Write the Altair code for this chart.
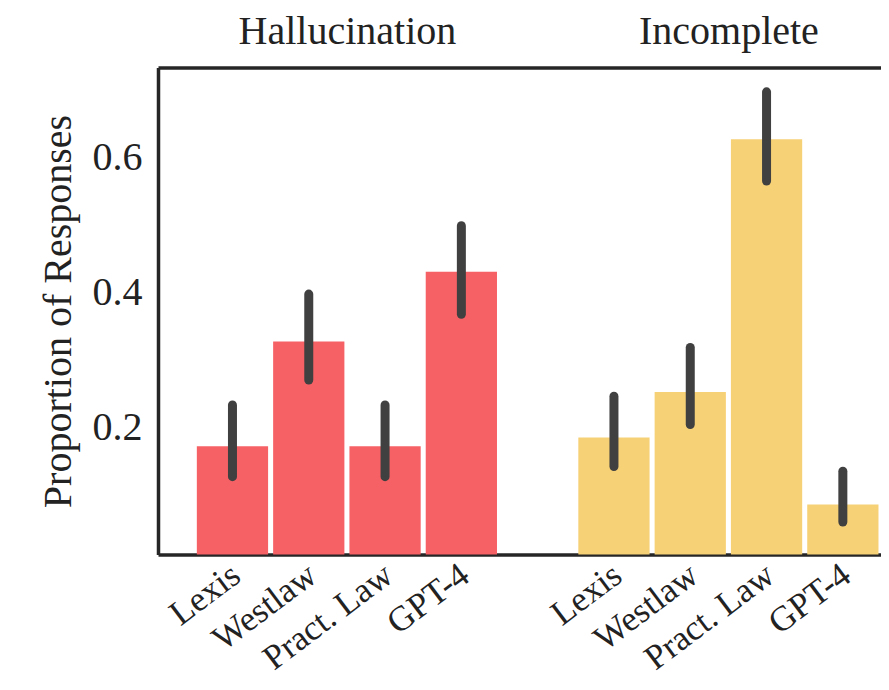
import altair as alt
import pandas as pd

models = ["Lexis", "Westlaw", "Pract. Law", "GPT-4"]
groups = ["Hallucination", "Incomplete"]
hall = [0.173, 0.328, 0.173, 0.431]
hall_lo = [0.128, 0.271, 0.128, 0.368]
hall_hi = [0.234, 0.398, 0.234, 0.499]
inc = [0.186, 0.253, 0.627, 0.087]
inc_lo = [0.143, 0.205, 0.565, 0.061]
inc_hi = [0.247, 0.319, 0.697, 0.136]
yticks = [0.2, 0.4, 0.6]

rows = []
for gi, (g, vals, los, his) in enumerate([(groups[0], hall, hall_lo, hall_hi),
                                           (groups[1], inc, inc_lo, inc_hi)]):
    for mi, m in enumerate(models):
        rows.append(dict(group=g, model=m, pos=gi * 5 + mi,
                         value=vals[mi], lo=los[mi], hi=his[mi]))
df = pd.DataFrame(rows)

label_list = models + [""] + models
label_expr = "[" + ",".join("'%s'" % s for s in label_list) + "][datum.value]"
positions = [0, 1, 2, 3, 5, 6, 7, 8]

FRAME = "#262626"
TEXT = "#222222"
xscale = alt.Scale(domain=[-0.976, 8.50], nice=False, zero=False)
yscale = alt.Scale(domain=[0.0129, 0.733], nice=False, zero=False)

base = alt.Chart(df)

bars = base.transform_calculate(
    x0="datum.pos - 0.467", x1="datum.pos + 0.467"
).mark_bar(clip=True).encode(
    x=alt.X("x0:Q", scale=xscale,
            axis=alt.Axis(orient="bottom", values=positions, labelExpr=label_expr,
                          labelAngle=-37, labelAlign="right", labelBaseline="middle",
                          labelPadding=16, labelOffset=3, labelFontSize=35,
                          labelColor=TEXT, labelOverlap=False, labelLimit=0,
                          labelBound=False, labelFlush=False,
                          ticks=False, grid=False, domainColor=FRAME, domainWidth=3.5,
                          title=None)),
    x2="x1:Q",
    y=alt.Y("value:Q", scale=yscale,
            axis=alt.Axis(values=yticks, format=".1f", ticks=False, grid=False,
                          labelFontSize=40, labelPadding=16, labelColor=TEXT,
                          labelOverlap=False,
                          domainColor=FRAME, domainWidth=3.5,
                          title="Proportion of Responses", titleFontSize=40,
                          titleFontWeight="normal", titleColor=TEXT,
                          titlePadding=14)),
    y2=alt.datum(0),
    color=alt.Color("group:N", scale=alt.Scale(domain=groups, range=["#f66166", "#f7d176"]),
                    legend=None),
)

errs = base.mark_rule(strokeWidth=9, strokeCap="round", color="#404040").encode(
    x=alt.X("pos:Q", scale=xscale,
            axis=alt.Axis(orient="top", values=[1.5, 6.5],
                          labelExpr="datum.value < 4 ? '%s' : '%s'" % (groups[0], groups[1]),
                          labelAngle=0, labelFontSize=40, labelPadding=16,
                          labelColor=TEXT, labelOverlap=False, labelLimit=0,
                          labelBound=False, labelFlush=False,
                          ticks=False, grid=False, domainColor=FRAME, domainWidth=3.5,
                          title=None)),
    y=alt.Y("lo:Q", scale=yscale),
    y2="hi:Q",
)

chart = alt.layer(bars, errs).resolve_axis(x="independent").properties(
    width=723, height=487, autosize="none",
    padding={"left": 150, "top": 59.5, "right": 0, "bottom": 123.5},
).configure(font="Liberation Serif").configure_view(stroke=None)

chart.save("out.html", embed_options={"renderer": "svg", "actions": False})
